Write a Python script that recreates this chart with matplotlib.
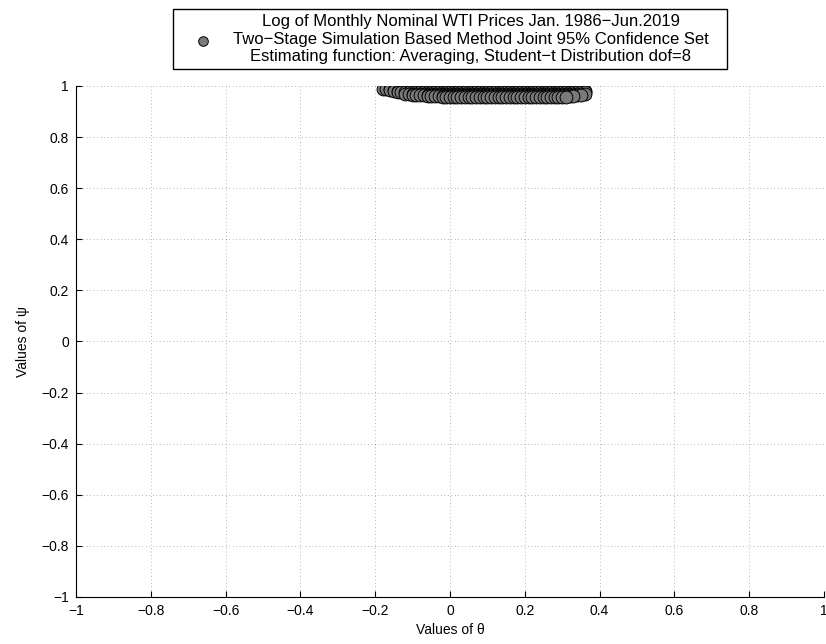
import numpy as np
import matplotlib
matplotlib.use('Agg')
import matplotlib.pyplot as plt

# grid of theta values on which the confidence set was evaluated
theta_grid = [-0.18, -0.17, -0.16, -0.15, -0.14, -0.13, -0.12, -0.11, -0.10, -0.09,
              -0.08, -0.07, -0.06, -0.05, -0.04, -0.03, -0.02, -0.01, 0.00, 0.01,
              0.02, 0.03, 0.04, 0.05, 0.06, 0.07, 0.08, 0.09, 0.10, 0.11,
              0.12, 0.13, 0.14, 0.15, 0.16, 0.17, 0.18, 0.19, 0.20, 0.21,
              0.22, 0.23, 0.24, 0.25, 0.26, 0.27, 0.28, 0.29, 0.30, 0.31,
              0.32, 0.33, 0.34, 0.35, 0.36]

# rows of the accepted set: psi value and theta bounds of each row
psi_rows = [0.990, 0.985, 0.980, 0.975, 0.970, 0.965, 0.960, 0.955]
theta_lo = [-0.18, -0.16, -0.15, -0.14, -0.12, -0.10, -0.06, -0.02]
theta_hi = [0.34, 0.35, 0.36, 0.36, 0.36, 0.35, 0.33, 0.31]

ticks = [-1, -0.8, -0.6, -0.4, -0.2, 0, 0.2, 0.4, 0.6, 0.8, 1]
tick_labels = ['\u22121', '\u22120.8', '\u22120.6', '\u22120.4', '\u22120.2', '0',
               '0.2', '0.4', '0.6', '0.8', '1']

legend_lines = ["Log of Monthly Nominal WTI Prices Jan. 1986\u2212Jun.2019",
                "Two\u2212Stage Simulation Based Method Joint 95% Confidence Set",
                "Estimating function: Averaging, Student\u2212t Distribution dof=8"]
# trailing spaces give the box the extra right-hand padding seen in the original
legend_text = "\n".join(s + "   " for s in legend_lines)

th_pts, psi_pts = [], []
for p, lo, hi in zip(psi_rows, theta_lo, theta_hi):
    for t in theta_grid:
        if lo - 1e-9 <= t <= hi + 1e-9:
            th_pts.append(t)
            psi_pts.append(p)

plt.rcParams['font.family'] = ['Liberation Sans', 'DejaVu Sans']

fig = plt.figure(figsize=(8.26, 6.44), dpi=100)
ax = fig.add_axes([0.092, 0.073, 0.9056, 0.7935])

ax.scatter(th_pts, psi_pts, s=85, c='#7a7a7a', edgecolors='k', linewidths=0.7,
           label=legend_text, zorder=3)

ax.set_xlim(-1, 1)
ax.set_ylim(-1, 1)
ax.set_xticks(ticks)
ax.set_xticklabels(tick_labels)
ax.set_yticks(ticks)
ax.set_yticklabels(tick_labels)
ax.tick_params(direction='in', length=4, width=0.8, labelsize=10, pad=5)
ax.grid(True, linestyle=(0, (1, 4)), color='k', linewidth=0.5, alpha=0.55)
for side in ['top', 'right']:
    ax.spines[side].set_visible(False)
for side in ['left', 'bottom']:
    ax.spines[side].set_linewidth(0.8)

ax.set_xlabel('Values of \u03b8', fontsize=10, labelpad=4)
ax.set_ylabel('Values of \u03c8', fontsize=10, labelpad=8)

leg = ax.legend(loc='lower center', bbox_to_anchor=(0.5, 1.033), borderaxespad=0,
                fancybox=False, framealpha=1, edgecolor='k',
                prop={'size': 12}, labelspacing=0.2,
                handletextpad=0.3, borderpad=0.3, handlelength=3.0,
                scatterpoints=1, markerscale=0.75)
leg.get_frame().set_linewidth(1.0)
for t in leg.get_texts():
    t.set_multialignment('center')

fig.savefig('out.png', dpi=100)
